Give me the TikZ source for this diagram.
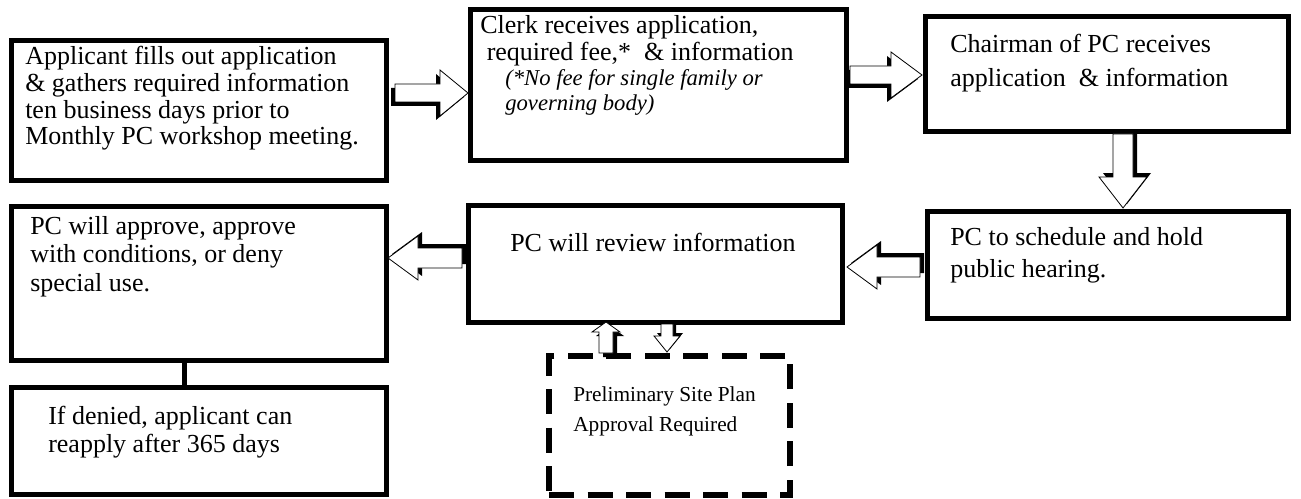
\documentclass[tikz,border=0pt]{standalone}
\usepackage{fontspec}
\setmainfont{Liberation Serif}
\usepackage{array}
\newcommand\blockarr[9]{%
  \fill[black, shift={({#1+(#8)},{#2+(#9)})}, rotate=#3]
    (0,-#6) -- ({#4-#5},-#6) -- ({#4-#5},-#7) -- (#4,0) -- ({#4-#5},#7) -- ({#4-#5},#6) -- (0,#6) -- cycle;
  \filldraw[fill=white, draw=black, line width=0.6pt, shift={(#1,#2)}, rotate=#3]
    (0,-#6) -- ({#4-#5},-#6) -- ({#4-#5},-#7) -- (#4,0) -- ({#4-#5},#7) -- ({#4-#5},#6) -- (0,#6) -- cycle;}
\begin{document}
\begin{tikzpicture}[x=0.75pt,y=-0.75pt,
  box/.style={draw=black, line width=3.75pt, inner sep=0pt, outer sep=0pt},
  dbox/.style={draw=black, line width=4.5pt, dash pattern=on 18.75pt off 10.125pt, inner sep=0pt},
  txt/.style={anchor=base west, inner sep=0pt, font=\fontsize{19.5}{20}\selectfont},
  itxt/.style={anchor=base west, inner sep=0pt, font=\fontsize{17}{18.75}\selectfont\itshape},
  conn/.style={draw=black, line width=3.75pt}]
\useasboundingbox (0,0) rectangle (1301,499);
\fill[white] (0,0) rectangle (1301,499);

% boxes
\node[box, minimum width=281.25pt, minimum height=104.25pt] (b1) at (198.5,110.5) {};
\node[box, minimum width=282pt, minimum height=112.5pt] (b2) at (658,85) {};
\node[box, minimum width=272.25pt, minimum height=86.25pt] (b3) at (1106.5,74.5) {};
\node[box, minimum width=270.75pt, minimum height=80.25pt] (b4) at (1107.5,264.5) {};
\node[box, minimum width=280.5pt, minimum height=87.75pt] (b5) at (655,263.5) {};
\node[box, minimum width=281.25pt, minimum height=115.5pt] (b6) at (198.5,283) {};
\node[box, minimum width=281.25pt, minimum height=80.25pt] (b7) at (198.5,441) {};
\node[dbox, minimum width=180.75pt, minimum height=104.25pt] (bd) at (669.5,425) {};

% texts
\node[txt] (t1) at (25,65) {\begin{tabular}[t]{@{}l@{}}Applicant fills out application\\ \& gathers required information\\ ten business days prior to\\ Monthly PC workshop meeting.\end{tabular}};
\node[txt] (t2a) at (480,34) {\begin{tabular}[t]{@{}l@{}}Clerk receives application,\\ \ required fee,*\ \ \& information\end{tabular}};
\node[itxt] (t2b) at (505,86) {\begin{tabular}[t]{@{}l@{}}(*No fee for single family or\\ governing body)\end{tabular}};
\node[txt, font=\fontsize{19.5}{25}\selectfont] (t3) at (950,53) {\begin{tabular}[t]{@{}l@{}}Chairman of PC receives\\ application\ \ \& information\end{tabular}};
\node[txt, font=\fontsize{19.5}{24}\selectfont] (t4) at (950,245) {\begin{tabular}[t]{@{}l@{}}PC to schedule and hold\\ public hearing.\end{tabular}};
\node[txt] (t5) at (510,251) {PC will review information};
\node[txt, font=\fontsize{19.5}{21.6}\selectfont] (t6) at (30,234) {\begin{tabular}[t]{@{}l@{}}PC will approve, approve\\ with conditions, or deny\\ special use.\end{tabular}};
\node[txt, font=\fontsize{19.5}{21}\selectfont] (t7) at (48,424) {\begin{tabular}[t]{@{}l@{}}If denied, applicant can\\ reapply after 365 days\end{tabular}};
\node[txt, font=\fontsize{16}{23}\selectfont] (td) at (573,401) {\begin{tabular}[t]{@{}l@{}}Preliminary Site Plan\\ Approval Required\end{tabular}};

% connector
\coordinate (cx) at (184.5,0);
\draw[conn] (b6.south -| cx) -- (b7.north -| cx);

% block arrows
\blockarr{395}{93}{0}{73}{28}{9}{23}{-4}{4}
\blockarr{850}{75}{0}{72}{31}{9}{23}{-4}{4}
\blockarr{1123}{134}{-90}{74}{31}{10}{24}{4}{-4}
\blockarr{920}{267}{180}{73}{30}{10}{22}{4}{-4}
\blockarr{462}{258}{180}{74}{30}{10}{22}{4}{-4}
\blockarr{606}{353}{90}{31}{10}{7}{14}{4}{4}
\blockarr{667}{324}{-90}{28}{16}{6}{13}{3}{-3}
\end{tikzpicture}
\end{document}
